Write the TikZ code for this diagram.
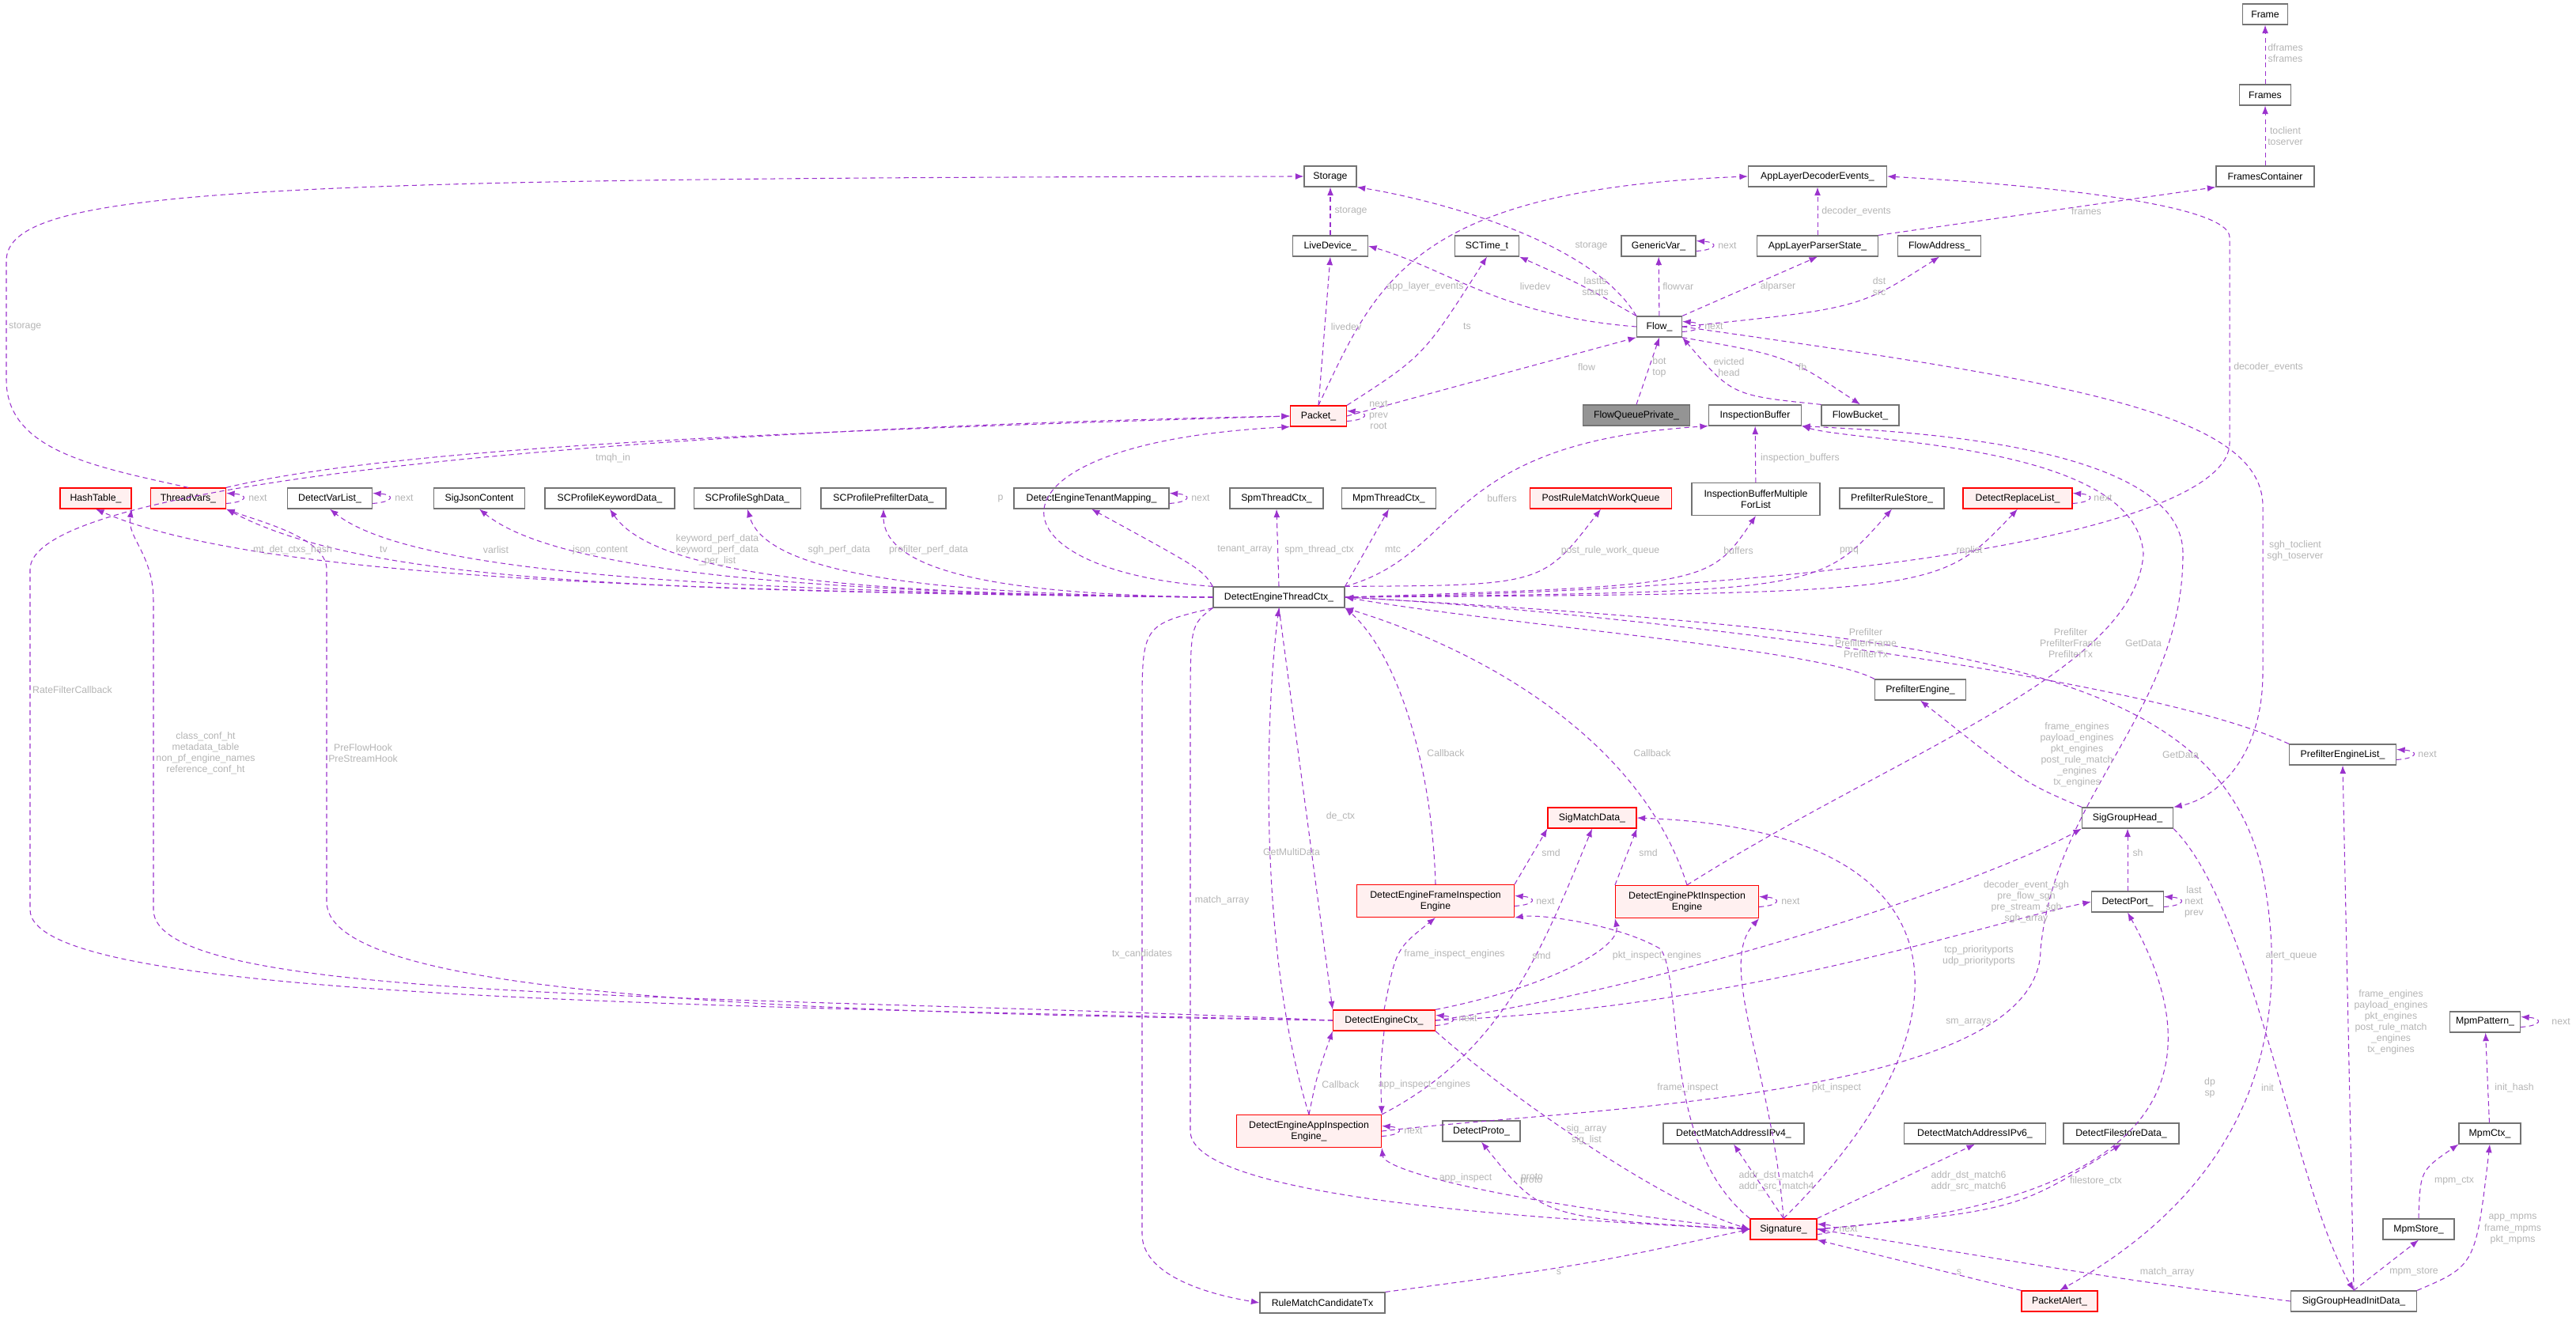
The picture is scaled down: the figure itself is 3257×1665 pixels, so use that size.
\documentclass[tikz,border=0pt]{standalone}
\usepackage{fontspec}
\setmainfont{Liberation Sans}
\usetikzlibrary{arrows.meta}
\definecolor{edgec}{HTML}{9A32CD}
\definecolor{lblc}{HTML}{B4B4B4}
\definecolor{redfill}{HTML}{FFF0F0}
\tikzset{
 box/.style={draw=black!55,line width=0.7pt,fill=white,minimum height=0.52cm,inner sep=0pt,font=\fontsize{7}{8}\selectfont,align=center},
 rbox/.style={box,draw=red,fill=redfill},
 gbox/.style={box,fill=black!42},
 tall/.style={minimum height=0.82cm},
 e/.style={draw=edgec,line width=0.6pt,dash pattern=on 3.5pt off 2.5pt,-{Latex[length=6pt,width=4.5pt]}},
 lbl/.style={text=lblc,font=\fontsize{7}{8}\selectfont,align=center,inner sep=0.5pt},
}
\newcommand{\selfloop}[1]{\draw[e] ([yshift=-0.13cm]#1.east) .. controls +(28,-2) and +(28,2) .. ([yshift=0.13cm]#1.east);}
\begin{document}
\begin{tikzpicture}[x=0.02cm,y=-0.02cm]
\useasboundingbox (0,0) rectangle (3257,1665);
% nodes
\node[box,minimum width=1.14cm] (Frame) at (2864,18) {Frame};
\node[box,minimum width=1.30cm] (Frames) at (2864,120) {Frames};
\node[box,minimum width=2.48cm] (FC) at (2864,223) {FramesContainer};
\node[box,minimum width=1.32cm] (Storage) at (1682,223) {Storage};
\node[box,minimum width=3.50cm] (ADE) at (2298,223) {AppLayerDecoderEvents\_};
\node[box,minimum width=1.62cm] (SCT) at (1880,311) {SCTime\_t};
\node[box,minimum width=1.88cm] (GV) at (2097,311) {GenericVar\_};
\node[box,minimum width=3.06cm] (ALPS) at (2298,311) {AppLayerParserState\_};
\node[box,minimum width=2.10cm] (FA) at (2452,311) {FlowAddress\_};
\node[box,minimum width=1.90cm] (LD) at (1682,311) {LiveDevice\_};
\node[box,minimum width=1.14cm] (Flow) at (2098,413) {Flow\_};
\node[gbox,minimum width=2.70cm] (FQP) at (2069,525) {FlowQueuePrivate\_};
\node[box,minimum width=2.34cm] (IB) at (2219,525) {InspectionBuffer};
\node[box,minimum width=1.96cm] (FB) at (2352,525) {FlowBucket\_};
\node[rbox,minimum width=1.42cm] (Packet) at (1667,526) {Packet\_};
\node[rbox,minimum width=1.80cm] (HT) at (121,630) {HashTable\_};
\node[rbox,minimum width=1.90cm] (TV) at (238,630) {ThreadVars\_};
\node[box,minimum width=2.14cm] (DVL) at (417,630) {DetectVarList\_};
\node[box,minimum width=2.30cm] (SJC) at (606,630) {SigJsonContent};
\node[box,minimum width=3.28cm] (SPK) at (771,630) {SCProfileKeywordData\_};
\node[box,minimum width=2.70cm] (SPS) at (945,630) {SCProfileSghData\_};
\node[box,minimum width=3.16cm] (SPP) at (1117,630) {SCProfilePrefilterData\_};
\node[box,minimum width=3.92cm] (DETM) at (1380,630) {DetectEngineTenantMapping\_};
\node[box,minimum width=2.36cm] (Spm) at (1614,630) {SpmThreadCtx\_};
\node[box,minimum width=2.38cm] (MTC) at (1756,630) {MpmThreadCtx\_};
\node[rbox,minimum width=3.58cm] (PRM) at (2024,630) {PostRuleMatchWorkQueue};
\node[box,tall,minimum width=3.24cm] (IBM) at (2220,631) {InspectionBufferMultiple\\ForList};
\node[box,minimum width=2.64cm] (PRS) at (2392,630) {PrefilterRuleStore\_};
\node[rbox,minimum width=2.76cm] (DRL) at (2551,630) {DetectReplaceList\_};
\node[box,minimum width=3.32cm] (DETC) at (1617,755) {DetectEngineThreadCtx\_};
\node[box,minimum width=2.30cm] (PE) at (2428,872) {PrefilterEngine\_};
\node[box,minimum width=2.70cm] (PEL) at (2962,954) {PrefilterEngineList\_};
\node[rbox,minimum width=2.24cm] (SMD) at (2013,1034) {SigMatchData\_};
\node[box,minimum width=2.30cm] (SGH) at (2690,1034) {SigGroupHead\_};
\node[rbox,tall,minimum width=3.98cm] (FIE) at (1815,1139) {DetectEngineFrameInspection\\Engine};
\node[rbox,tall,minimum width=3.62cm] (PIE) at (2133,1140) {DetectEnginePktInspection\\Engine};
\node[box,minimum width=1.82cm] (DP) at (2690,1140) {DetectPort\_};
\node[rbox,minimum width=2.58cm] (DEC) at (1750,1290) {DetectEngineCtx\_};
\node[box,minimum width=1.78cm] (MP) at (3142,1292) {MpmPattern\_};
\node[rbox,tall,minimum width=3.66cm] (AIE) at (1655,1430) {DetectEngineAppInspection\\Engine\_};
\node[box,minimum width=1.96cm] (DPr) at (1873,1430) {DetectProto\_};
\node[box,minimum width=3.56cm] (IP4) at (2192,1433) {DetectMatchAddressIPv4\_};
\node[box,minimum width=3.58cm] (IP6) at (2497,1433) {DetectMatchAddressIPv6\_};
\node[box,minimum width=2.92cm] (DFD) at (2682,1433) {DetectFilestoreData\_};
\node[box,minimum width=1.56cm] (MC) at (3148,1433) {MpmCtx\_};
\node[rbox,minimum width=1.68cm] (Sig) at (2255,1554) {Signature\_};
\node[box,minimum width=1.80cm] (MS) at (3058,1554) {MpmStore\_};
\node[box,minimum width=3.16cm] (RMC) at (1672,1647) {RuleMatchCandidateTx};
\node[rbox,minimum width=1.92cm] (PA) at (2604,1645) {PacketAlert\_};
\node[box,minimum width=3.18cm] (SGI) at (2976,1645) {SigGroupHeadInitData\_};

% edges top
\draw[e] (Frames) -- (Frame);
\draw[e] (FC) -- (Frames);
\draw[e] (LD) -- (Storage);
\draw[e] (Flow.north west) .. controls (2010,300) and (1800,250) .. (Storage.south east);
\draw[e] (TV.north) .. controls (120,590) and (8,570) .. (8,480) -- (8,330) .. controls (8,240) and (300,225) .. (Storage.west);
\draw[e] (Packet.north) -- (LD.south);
\draw[e] (Flow.west) .. controls (1900,400) and (1830,340) .. (LD.east);
\draw[e] (Packet.north east) .. controls (1800,450) .. (SCT.south);
\draw[e] (Flow.north west) .. controls (2000,360) .. (SCT.south east);
\draw[e] (Packet.north) .. controls (1740,360) and (1780,240) .. (ADE.west);
\draw[e] (ALPS) -- (ADE);
\draw[e] (DETC.east) .. controls (2400,745) and (2819,660) .. (2819,560) -- (2819,300) .. controls (2819,260) and (2600,235) .. (ADE.east);
\draw[e] (ALPS.north east) -- (FC.south west);
\selfloop{GV}
\draw[e] (Flow) -- (GV);
\draw[e] (Flow.north east) -- (ALPS.south);
\draw[e] (Flow.east) .. controls (2350,390) .. (FA.south);
\selfloop{Flow}
\draw[e] (Packet.east) -- (Flow.south west);
\draw[e] (FQP.north) -- (Flow.south);
\draw[e] (FB.north west) .. controls (2190,500) .. (Flow.south east);
\draw[e] (Flow.south east) .. controls (2260,450) .. (FB.north);
\draw[e] (Flow.east) .. controls (2600,480) and (2861,520) .. (2861,640) -- (2861,850) .. controls (2861,960) and (2800,1010) .. (SGH.north east);
\selfloop{Packet}
\draw[e] (TV.north east) .. controls (500,565) and (1000,545) .. (Packet.west);
\draw[e] (DETC.north west) .. controls (1240,720) and (1230,560) .. (Packet.south west);
\draw[e] (DEC.west) .. controls (800,1270) and (38,1260) .. (38,1150) -- (38,720) .. controls (38,600) and (900,540) .. (Packet.west);
% DETC bundle left
\draw[e] (DEC.west) .. controls (900,1255) and (194,1270) .. (194,1150) -- (194,760) .. controls (194,700) and (160,680) .. (HT.south east);
\draw[e] (DEC.west) .. controls (1000,1280) and (413,1260) .. (413,1140) -- (413,720) .. controls (413,680) and (330,660) .. (TV.south east);
\draw[e] (DETC.west) .. controls (900,748) and (330,735) .. (HT.south);
\draw[e] (DETC.west) .. controls (800,748) and (460,735) .. (TV.south east);
\draw[e] (DETC.west) .. controls (900,748) and (520,725) .. (DVL.south);
\draw[e] (DETC.west) .. controls (1000,750) and (700,720) .. (SJC.south);
\draw[e] (DETC.west) .. controls (1100,752) and (830,730) .. (SPK.south);
\draw[e] (DETC.west) .. controls (1200,752) and (970,730) .. (SPS.south);
\draw[e] (DETC.west) .. controls (1300,752) and (1117,730) .. (SPP.south);
\draw[e] (DETC.north west) .. controls (1520,720) .. (DETM.south);
\selfloop{DETM}
\selfloop{TV}
\selfloop{DVL}
\draw[e] (DETC.north) -- (Spm.south);
\draw[e] (DETC.north east) -- (MTC.south);
\draw[e] (DETC.north east) .. controls (1850,700) and (1820,560) .. (IB.south west);
\draw[e] (DETC.north east) .. controls (1950,740) .. (PRM.south);
\draw[e] (DETC.east) .. controls (2160,740) .. (IBM.south);
\draw[e] (IBM) -- (IB);
\draw[e] (DETC.east) .. controls (2300,748) .. (PRS.south);
\draw[e] (DETC.east) .. controls (2450,750) .. (DRL.south);
\selfloop{DRL}
% DETC downward
\draw[e] (DETC.south west) .. controls (1444,790) .. (1444,900) -- (1444,1560) .. controls (1444,1610) and (1520,1635) .. (RMC.west);
\draw[e] (DETC.south west) .. controls (1505,790) .. (1505,900) -- (1505,1430) .. controls (1505,1510) and (1900,1540) .. (Sig.west);
\draw[e] (DETC.south) -- (DEC.north west);
\draw[e] (AIE.north) .. controls (1590,1200) and (1600,900) .. (DETC.south);
\draw[e] (FIE.north) .. controls (1810,950) and (1760,820) .. (DETC.south east);
\draw[e] (PIE.north) .. controls (2080,950) and (1900,830) .. (DETC.south east);
\draw[e] (PE.north west) .. controls (2300,820) and (1900,790) .. (DETC.east);
\draw[e] (PEL.north west) .. controls (2700,850) and (2000,770) .. (DETC.east);
\draw[e] (PIE.north) .. controls (2400,950) and (2700,850) .. (2710,700) .. controls (2700,560) and (2350,560) .. (IB.south east);
\draw[e] (AIE.east) .. controls (2000,1400) and (2580,1390) .. (2580,1200) .. controls (2600,1000) and (2760,900) .. (2760,700) .. controls (2760,560) and (2400,545) .. (IB.south east);
\draw[e] (DETC.east) .. controls (2500,800) and (2800,850) .. (2860,1100) .. controls (2920,1400) and (2750,1550) .. (PA.north);
% DEC
\selfloop{DEC}
\draw[e] (DEC.north) .. controls (1765,1200) .. (FIE.south);
\draw[e] (DEC.north east) .. controls (1950,1250) and (2050,1200) .. (PIE.south west);
\draw[e] (DEC.south) .. controls (1745,1350) .. (AIE.north east);
\draw[e] (AIE.north) .. controls (1665,1360) .. (DEC.south west);
\draw[e] (DEC.east) .. controls (2100,1250) and (2500,1120) .. (SGH.south west);
\draw[e] (DEC.east) .. controls (2200,1275) and (2500,1170) .. (DP.west);
\draw[e] (DEC.south east) .. controls (1900,1380) and (2100,1520) .. (Sig.west);
\draw[e] (FIE.north east) -- (SMD.south west);
\draw[e] (PIE.north west) -- (SMD.south east);
\draw[e] (AIE.north east) .. controls (1900,1330) and (1950,1200) .. (SMD.south);
\selfloop{FIE}
\selfloop{PIE}
\selfloop{AIE}
% right
\draw[e] (SGH.north west) .. controls (2560,990) .. (PE.south);
\draw[e] (DP) -- (SGH);
\selfloop{DP}
\draw[e] (SGH.south east) .. controls (2850,1150) and (2900,1500) .. (SGI.north);
\draw[e] (SGI.north) -- (PEL.south);
\selfloop{PEL}
\selfloop{MP}
\draw[e] (MC) -- (MP);
\draw[e] (MS.north) .. controls (3060,1480) .. (MC.south west);
\draw[e] (SGI.north east) .. controls (3130,1600) .. (MC.south);
\draw[e] (SGI.north) -- (MS.south);
\draw[e] (SGI.west) .. controls (2700,1620) .. (Sig.east);
\draw[e] (PA.north west) -- (Sig.south east);
\draw[e] (RMC.north east) .. controls (2000,1600) .. (Sig.west);
\selfloop{Sig}
\draw[e] (Sig.west) .. controls (1900,1520) and (1750,1480) .. (AIE.south east);
\draw[e] (Sig.west) .. controls (1950,1540) .. (DPr.south);
\draw[e] (Sig.north west) .. controls (2100,1450) and (2130,1250) .. (2100,1200) .. controls (2050,1170) and (1950,1155) .. (FIE.south east);
\draw[e] (Sig.north) .. controls (2240,1350) and (2170,1220) .. (PIE.south east);
\draw[e] (Sig.north) .. controls (2500,1300) and (2500,1050) .. (SMD.east);
\draw[e] (Sig.north) -- (IP4.south);
\draw[e] (Sig.north east) -- (IP6.south);
\draw[e] (Sig.east) .. controls (2550,1530) .. (DFD.south);
\draw[e] (Sig.east) .. controls (2750,1520) and (2800,1350) .. (DP.south);

% labels
\node[lbl,anchor=west] (l1) at (2866,67) {dframes\\sframes};
\node[lbl,anchor=west] (l2) at (2866,172) {toclient\\toserver};
\node[lbl] (l3) at (2012,311) {storage};
\node[lbl,anchor=west] (l4) at (2302,267) {decoder\_events};
\node[lbl] (l5) at (2638,267) {frames};
\node[lbl] (l6) at (1802,362) {app\_layer\_events};
\node[lbl] (l7) at (1941,362) {livedev};
\node[lbl] (l8) at (2017,362) {lastts\\startts};
\node[lbl,anchor=west] (l9) at (2101,362) {flowvar};
\node[lbl] (l10) at (2248,362) {alparser};
\node[lbl] (l11) at (2376,362) {dst\\src};
\node[lbl] (l12) at (2184,311) {next};
\node[lbl] (l13) at (2167,413) {next};
\node[lbl] (l14) at (1855,413) {ts};
\node[lbl] (l15) at (2006,464) {flow};
\node[lbl] (l16) at (2098,464) {bot\\top};
\node[lbl] (l17) at (2186,464) {evicted\\head};
\node[lbl] (l18) at (2279,464) {fb};
\node[lbl,anchor=west] (l19) at (2823,464) {decoder\_events};
\node[lbl] (l20) at (1708,267) {storage};
\node[lbl] (l21) at (1702,413) {livedev};
\node[lbl] (l22) at (1743,525) {next\\prev\\root};
\node[lbl] (l23) at (1265,630) {p};
\node[lbl] (l24) at (1518,630) {next};
\node[lbl] (l25) at (1899,630) {buffers};
\node[lbl,anchor=west] (l26) at (10,413) {storage};
\node[lbl] (l27) at (775,579) {tmqh\_in};
\node[lbl] (l28) at (326,630) {next};
\node[lbl] (l29) at (511,630) {next};
\node[lbl] (l30) at (370,695) {mt\_det\_ctxs\_hash};
\node[lbl] (l31) at (485,695) {tv};
\node[lbl] (l32) at (627,695) {varlist};
\node[lbl] (l33) at (759,695) {json\_content};
\node[lbl] (l34) at (907,695) {keyword\_perf\_data\\keyword\_perf\_data\\\_per\_list};
\node[lbl] (l35) at (1061,695) {sgh\_perf\_data};
\node[lbl] (l36) at (1174,695) {prefilter\_perf\_data};
\node[lbl] (l37) at (1574,695) {tenant\_array};
\node[lbl] (l38) at (1668,695) {spm\_thread\_ctx};
\node[lbl] (l39) at (1761,695) {mtc};
\node[lbl] (l40) at (2036,696) {post\_rule\_work\_queue};
\node[lbl] (l41) at (2198,696) {buffers};
\node[lbl] (l42) at (2338,696) {pmq};
\node[lbl] (l43) at (2490,696) {replist};
\node[lbl] (l44) at (2659,630) {next};
\node[lbl] (l45) at (2276,579) {inspection\_buffers};
\node[lbl] (l46) at (2902,696) {sgh\_toclient\\sgh\_toserver};
\node[lbl] (l47) at (2359,813) {Prefilter\\PrefilterFrame\\PrefilterTx};
\node[lbl] (l48) at (2618,813) {Prefilter\\PrefilterFrame\\PrefilterTx};
\node[lbl] (l49) at (2710,813) {GetData};
\node[lbl] (l50) at (2757,954) {GetData};
\node[lbl] (l51) at (3069,954) {next};
\node[lbl] (l52) at (2626,954) {frame\_engines\\payload\_engines\\pkt\_engines\\post\_rule\_match\\\_engines\\tx\_engines};
\node[lbl] (l53) at (2703,1078) {sh};
\node[lbl] (l54) at (1961,1078) {smd};
\node[lbl] (l55) at (2084,1078) {smd};
\node[lbl] (l56) at (2264,1140) {next};
\node[lbl] (l57) at (1954,1140) {next};
\node[lbl] (l58) at (2774,1140) {last\\next\\prev};
\node[lbl] (l59) at (2562,1140) {decoder\_event\_sgh\\pre\_flow\_sgh\\pre\_stream\_sgh\\sgh\_array};
\node[lbl] (l60) at (2502,1208) {tcp\_priorityports\\udp\_priorityports};
\node[lbl] (l61) at (1949,1208) {smd};
\node[lbl] (l62) at (2095,1208) {pkt\_inspect\_engines};
\node[lbl] (l63) at (2489,1292) {sm\_arrays};
\node[lbl] (l64) at (2897,1208) {alert\_queue};
\node[lbl] (l65) at (3023,1292) {frame\_engines\\payload\_engines\\pkt\_engines\\post\_rule\_match\\\_engines\\tx\_engines};
\node[lbl] (l66) at (3238,1292) {next};
\node[lbl] (l67) at (3179,1375) {init\_hash};
\node[lbl] (l68) at (2134,1375) {frame\_inspect};
\node[lbl] (l69) at (2322,1375) {pkt\_inspect};
\node[lbl] (l70) at (2794,1375) {dp\\sp};
\node[lbl] (l71) at (2867,1375) {init};
\node[lbl] (l72) at (2006,1434) {sig\_array\\sig\_list};
\node[lbl] (l73) at (2246,1493) {addr\_dst\_match4\\addr\_src\_match4};
\node[lbl] (l74) at (2489,1493) {addr\_dst\_match6\\addr\_src\_match6};
\node[lbl] (l75) at (2650,1493) {filestore\_ctx};
\node[lbl] (l76) at (1936,1493) {proto};
\node[lbl] (l77) at (3103,1493) {mpm\_ctx};
\node[lbl] (l78) at (3177,1554) {app\_mpms\\frame\_mpms\\pkt\_mpms};
\node[lbl] (l79) at (2337,1554) {next};
\node[lbl] (l80) at (1971,1608) {s};
\node[lbl] (l81) at (2477,1608) {s};
\node[lbl] (l82) at (2740,1608) {match\_array};
\node[lbl] (l83) at (3052,1608) {mpm\_store};
\node[lbl] (l84) at (1828,952) {Callback};
\node[lbl] (l85) at (2089,952) {Callback};
\node[lbl] (l86) at (1695,1032) {de\_ctx};
\node[lbl] (l87) at (1633,1077) {GetMultiData};
\node[lbl] (l88) at (1545,1138) {match\_array};
\node[lbl] (l89) at (1839,1206) {frame\_inspect\_engines};
\node[lbl] (l90) at (1856,1288) {next};
\node[lbl] (l91) at (1444,1206) {tx\_candidates};
\node[lbl] (l92) at (1695,1371) {Callback};
\node[lbl] (l93) at (1801,1371) {app\_inspect\_engines};
\node[lbl] (l94) at (1787,1430) {next};
\node[lbl] (l95) at (1853,1489) {app\_inspect};
\node[lbl] (l96) at (1937,1489) {proto};
\node[lbl,anchor=west] (l97) at (40,872) {RateFilterCallback};
\node[lbl] (l98) at (260,952) {class\_conf\_ht\\metadata\_table\\non\_pf\_engine\_names\\reference\_conf\_ht};
\node[lbl] (l99) at (459,952) {PreFlowHook\\PreStreamHook};
\end{tikzpicture}
\end{document}
